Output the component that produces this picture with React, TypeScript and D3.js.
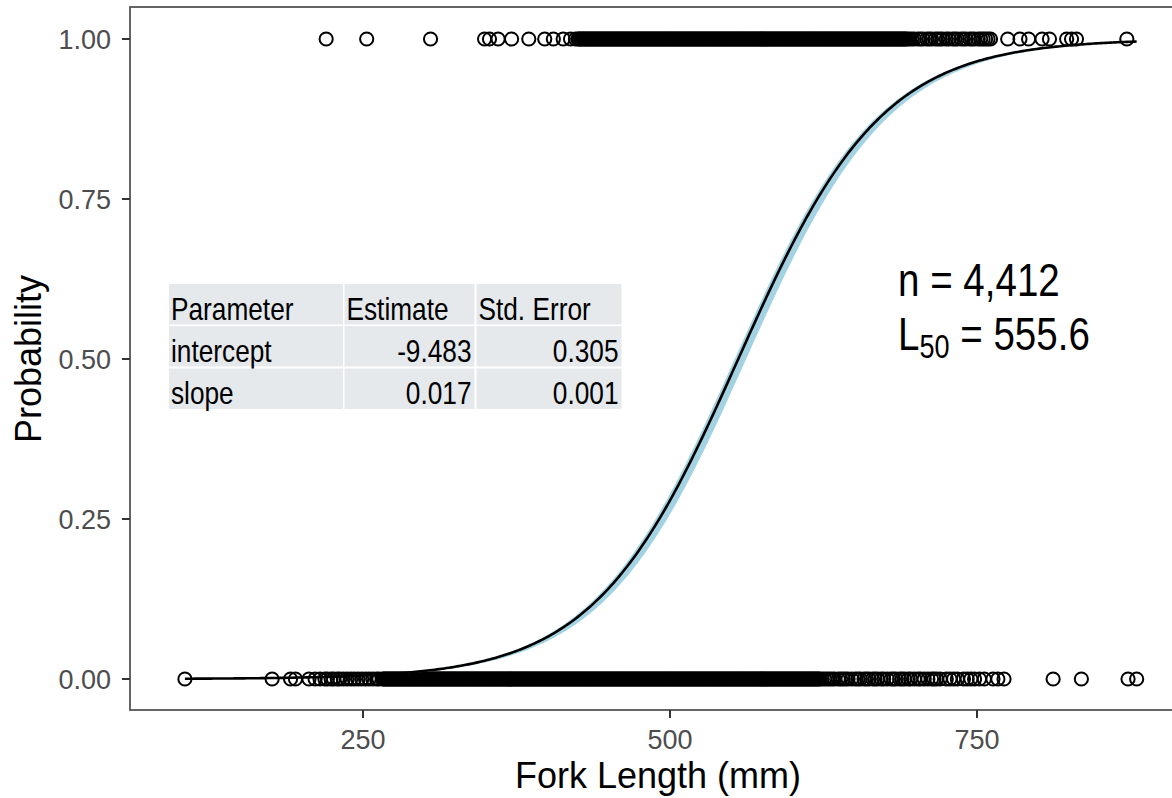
import * as d3 from 'd3'

// fork lengths (mm) of mature fish, drawn at probability 1
const matureLengths = [
  220, 253, 305, 349, 353, 360, 371, 385, 398, 405, 413, 419, 423,
  425, 426, 427, 428, 429, 430, 431, 432, 433, 434, 435, 436, 437, 438, 439, 440, 441, 442, 443, 444,
  445, 446, 447, 448, 449, 450, 451, 452, 453, 454, 455, 456, 457, 458, 459, 460, 461, 462, 463, 464,
  465, 466, 467, 468, 469, 470, 471, 472, 473, 474, 475, 476, 477, 478, 479, 480, 481, 482, 483, 484,
  485, 486, 487, 488, 489, 490, 491, 492, 493, 494, 495, 496, 497, 498, 499, 500, 501, 502, 503, 504,
  505, 506, 507, 508, 509, 510, 511, 512, 513, 514, 515, 516, 517, 518, 519, 520, 521, 522, 523, 524,
  525, 526, 527, 528, 529, 530, 531, 532, 533, 534, 535, 536, 537, 538, 539, 540, 541, 542, 543, 544,
  545, 546, 547, 548, 549, 550, 551, 552, 553, 554, 555, 556, 557, 558, 559, 560, 561, 562, 563, 564,
  565, 566, 567, 568, 569, 570, 571, 572, 573, 574, 575, 576, 577, 578, 579, 580, 581, 582, 583, 584,
  585, 586, 587, 588, 589, 590, 591, 592, 593, 594, 595, 596, 597, 598, 599, 600, 601, 602, 603, 604,
  605, 606, 607, 608, 609, 610, 611, 612, 613, 614, 615, 616, 617, 618, 619, 620, 621, 622, 623, 624,
  625, 626, 627, 628, 629, 630, 631, 632, 633, 634, 635, 636, 637, 638, 639, 640, 641, 642, 643, 644,
  645, 646, 647, 648, 649, 650, 651, 652, 653, 654, 655, 656, 657, 658, 659, 660, 661, 662, 663, 664,
  665, 666, 667, 668, 669, 670, 671, 672, 673, 674, 675, 676, 677, 678, 679, 680, 681, 682, 683, 684,
  685, 686, 687, 688, 689, 690, 691, 692, 693,
  695, 697, 699, 702, 704, 706, 709, 711, 713, 716, 718, 720, 722, 725, 727, 730, 732, 734, 737, 739,
  741, 744, 746, 748, 751, 753, 755, 757, 759, 761,
  775, 785, 792, 803, 809, 823, 827, 831, 872,
]

// fork lengths (mm) of immature fish, drawn at probability 0
const immatureLengths = [
  105, 176, 191, 195, 206, 211, 215, 219, 221, 224, 226, 229, 231, 234, 237, 240, 243, 246, 249, 252, 255,
  258, 261, 263,
  266, 267, 268, 269, 270, 271, 272, 273, 274, 275, 276, 277, 278, 279, 280, 281, 282, 283, 284, 285,
  286, 287, 288, 289, 290, 291, 292, 293, 294, 295, 296, 297, 298, 299, 300, 301, 302, 303, 304, 305,
  306, 307, 308, 309, 310, 311, 312, 313, 314, 315, 316, 317, 318, 319, 320, 321, 322, 323, 324, 325,
  326, 327, 328, 329, 330, 331, 332, 333, 334, 335, 336, 337, 338, 339, 340, 341, 342, 343, 344, 345,
  346, 347, 348, 349, 350, 351, 352, 353, 354, 355, 356, 357, 358, 359, 360, 361, 362, 363, 364, 365,
  366, 367, 368, 369, 370, 371, 372, 373, 374, 375, 376, 377, 378, 379, 380, 381, 382, 383, 384, 385,
  386, 387, 388, 389, 390, 391, 392, 393, 394, 395, 396, 397, 398, 399, 400, 401, 402, 403, 404, 405,
  406, 407, 408, 409, 410, 411, 412, 413, 414, 415, 416, 417, 418, 419, 420, 421, 422, 423, 424, 425,
  426, 427, 428, 429, 430, 431, 432, 433, 434, 435, 436, 437, 438, 439, 440, 441, 442, 443, 444, 445,
  446, 447, 448, 449, 450, 451, 452, 453, 454, 455, 456, 457, 458, 459, 460, 461, 462, 463, 464, 465,
  466, 467, 468, 469, 470, 471, 472, 473, 474, 475, 476, 477, 478, 479, 480, 481, 482, 483, 484, 485,
  486, 487, 488, 489, 490, 491, 492, 493, 494, 495, 496, 497, 498, 499, 500, 501, 502, 503, 504, 505,
  506, 507, 508, 509, 510, 511, 512, 513, 514, 515, 516, 517, 518, 519, 520, 521, 522, 523, 524, 525,
  526, 527, 528, 529, 530, 531, 532, 533, 534, 535, 536, 537, 538, 539, 540, 541, 542, 543, 544, 545,
  546, 547, 548, 549, 550, 551, 552, 553, 554, 555, 556, 557, 558, 559, 560, 561, 562, 563, 564, 565,
  566, 567, 568, 569, 570, 571, 572, 573, 574, 575, 576, 577, 578, 579, 580, 581, 582, 583, 584, 585,
  586, 587, 588, 589, 590, 591, 592, 593, 594, 595, 596, 597, 598, 599, 600, 601, 602, 603, 604, 605,
  606, 607, 608, 609, 610, 611, 612, 613, 614, 615, 616, 617, 618, 619, 620, 621, 622,
  624, 626, 628, 630, 632, 634, 637, 639, 641, 643, 645, 648, 651, 653, 655, 658, 660, 662, 665, 667,
  669, 672, 674, 677, 680, 682, 684, 687, 689, 691, 694, 696, 699, 702, 704, 707, 710, 713, 715, 717,
  720, 725, 728, 731, 734, 739, 742, 745, 748, 752, 756, 763, 767, 772,
  812, 835, 873, 880,
]

const xTicks = [250, 500, 750]
const yTicks = [0, 0.25, 0.5, 0.75, 1]

const tableHeader = ['Parameter', 'Estimate', 'Std. Error']
const tableParams = ['intercept', 'slope']
const tableEstimates = ['-9.483', '0.017']
const tableStdErrors = ['0.305', '0.001']

const intercept = -9.483
const l50 = 555.6
const sampleSize = '4,412'
// ribbon limits on the logit scale, relative to the fitted line
const bandEtaOffsets = [-0.11, 0.05]

const W = 1172
const H = 798
const panel = { left: 130, top: 7, right: 1192, bottom: 710 }
const sans = '"Liberation Sans", Arial, Helvetica, sans-serif'
// no narrow face installed: squeeze the regular one horizontally
const narrowScale = 0.82

function NarrowText({ x, y, size, anchor = 'start', children }: { x: number; y: number; size: number; anchor?: string; children: any }) {
  return (
    <text transform={`translate(${x},${y}) scale(${narrowScale},1)`} textAnchor={anchor} fontFamily={sans} fontSize={size} fill="#000">
      {children}
    </text>
  )
}

export default function App() {
  const x = d3.scaleLinear().domain([250, 750]).range([363, 977])
  const y = d3.scaleLinear().domain([0, 1]).range([679, 39])

  const slope = -intercept / l50
  const logistic = (eta: number) => 1 / (1 + Math.exp(-eta))
  const [xmin, xmax] = d3.extent([...matureLengths, ...immatureLengths]) as [number, number]
  const fitX = d3.range(xmin, xmax + 0.01, (xmax - xmin) / 400)

  const line = d3.line<number>().x((d) => x(d)).y((d) => y(logistic(intercept + slope * d)))
  const area = d3
    .area<number>()
    .x((d) => x(d))
    .y0((d) => y(logistic(intercept + slope * d + bandEtaOffsets[0])))
    .y1((d) => y(logistic(intercept + slope * d + bandEtaOffsets[1])))

  // table layout
  const colX = [169, 344.5, 476.5]
  const colW = [174, 130, 145]
  const rowY = [284, 326, 368.5]
  const rowH = 40.5
  const tableRows = [tableHeader, ...tableParams.map((p, i) => [p, tableEstimates[i], tableStdErrors[i]])]

  return (
    <div style={{ position: 'absolute', left: 0, top: 0 }}>
      <svg width={W} height={H} style={{ display: 'block' }}>
        <rect width={W} height={H} fill="#ffffff" />
        <defs>
          <clipPath id="panel-clip">
            <rect x={panel.left} y={panel.top} width={panel.right - panel.left} height={panel.bottom - panel.top} />
          </clipPath>
        </defs>

        <g clipPath="url(#panel-clip)">
          {immatureLengths.map((d, i) => (
            <circle key={'i' + i} cx={x(d)} cy={y(0)} r={6.6} fill="none" stroke="#000" strokeWidth={2} />
          ))}
          {matureLengths.map((d, i) => (
            <circle key={'m' + i} cx={x(d)} cy={y(1)} r={6.6} fill="none" stroke="#000" strokeWidth={2} />
          ))}
          <path d={area(fitX) ?? ''} fill="#a3d3e3" />
          <path d={line(fitX) ?? ''} fill="none" stroke="#000" strokeWidth={2.6} />
        </g>

        {/* parameter table */}
        {tableRows.map((row, r) =>
          row.map((cell, c) => {
            const rightAlign = r > 0 && c > 0
            return (
              <g key={`${r}-${c}`}>
                <rect x={colX[c]} y={rowY[r]} width={colW[c]} height={rowH} fill="#e5e9ec" />
                <NarrowText
                  x={rightAlign ? colX[c] + colW[c] - 3 : colX[c] + 2}
                  y={rowY[r] + rowH - 5}
                  size={32}
                  anchor={rightAlign ? 'end' : 'start'}
                >
                  {cell}
                </NarrowText>
              </g>
            )
          }),
        )}

        {/* annotation */}
        <NarrowText x={898} y={296} size={47}>
          n = {sampleSize}
        </NarrowText>
        <NarrowText x={898} y={350} size={47}>
          L
          <tspan fontSize={33} dy={8}>50</tspan>
          <tspan dy={-8}> = {l50.toFixed(1)}</tspan>
        </NarrowText>

        {/* panel border */}
        <rect
          x={panel.left}
          y={panel.top}
          width={panel.right - panel.left}
          height={panel.bottom - panel.top}
          fill="none"
          stroke="#555555"
          strokeWidth={1.8}
        />

        {/* y axis */}
        {yTicks.map((t) => (
          <g key={'y' + t}>
            <line x1={panel.left - 8} x2={panel.left} y1={y(t)} y2={y(t)} stroke="#333" strokeWidth={2} />
            <text x={panel.left - 19} y={y(t)} dy="0.36em" textAnchor="end" fontFamily={sans} fontSize={27} fill="#4d4d4d">
              {t.toFixed(2)}
            </text>
          </g>
        ))}
        {/* x axis */}
        {xTicks.map((t) => (
          <g key={'x' + t}>
            <line x1={x(t)} x2={x(t)} y1={panel.bottom} y2={panel.bottom + 8} stroke="#333" strokeWidth={2} />
            <text x={x(t)} y={749} textAnchor="middle" fontFamily={sans} fontSize={27} fill="#4d4d4d">
              {t}
            </text>
          </g>
        ))}

        <text x={658} y={788} textAnchor="middle" fontFamily={sans} fontSize={36} fill="#000">
          Fork Length (mm)
        </text>
        <text transform="translate(41,359) rotate(-90)" textAnchor="middle" fontFamily={sans} fontSize={36} fill="#000">
          Probability
        </text>
      </svg>
    </div>
  )
}
